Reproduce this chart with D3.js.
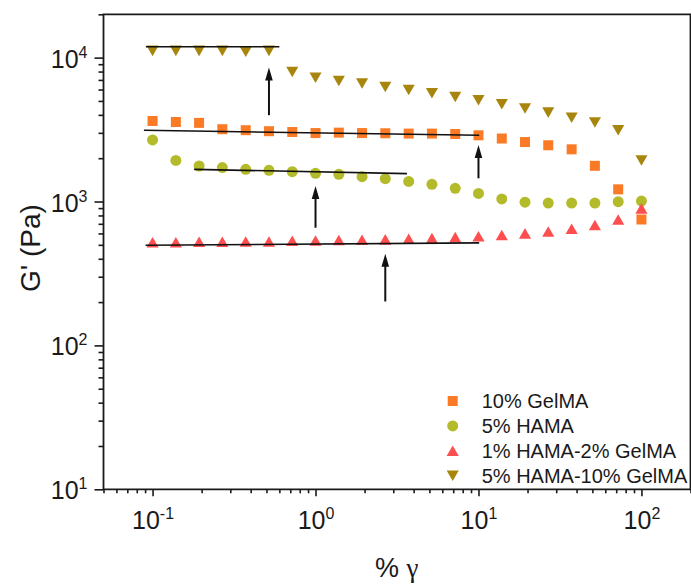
<!DOCTYPE html>
<html>
<head>
<meta charset="utf-8">
<script src="https://cdn.jsdelivr.net/npm/d3@7"></script>
<style>
  body { margin: 0; background: #fff; }
  svg text { font-family: "Liberation Sans", Arial, sans-serif; fill: #1a1a1a; }
</style>
</head>
<body>
<div id="chart-container"></div>
<script>
// strain sweep, % strain on x, storage modulus on y (both log)
const strain = [0.1, 0.139, 0.193, 0.268, 0.373, 0.518, 0.72, 1, 1.39, 1.93, 2.68,
  3.73, 5.18, 7.2, 10, 13.9, 19.3, 26.8, 37.3, 51.8, 72, 100];

const seriesNames = ["10% GelMA", "5% HAMA", "1% HAMA-2% GelMA", "5% HAMA-10% GelMA"];
const seriesColors = ["#fb7a26", "#b3bb2a", "#fd4f50", "#a8860e"];
const seriesSymbols = ["square", "circle", "triangleUp", "triangleDown"];

const gelma10 = [3630, 3570, 3520, 3180, 3130, 3080, 3040, 2990, 3010, 2990, 2980,
  2965, 2965, 2945, 2885, 2740, 2590, 2460, 2305, 1770, 1215, 750];
const hama5 = [2680, 1930, 1765, 1720, 1673, 1647, 1613, 1570, 1545, 1489, 1442,
  1380, 1316, 1234, 1138, 1042, 990, 975, 975, 975, 997, 1007];
const hama1gel2 = [521, 521, 525, 525, 527, 527, 533, 536, 539, 542, 545,
  551, 556, 565, 574, 584, 600, 619, 647, 685, 750, 895];
const hama5gel10 = [11150, 11150, 11150, 11150, 11010, 11150, 7960, 7260, 6890, 6610, 6260,
  5970, 5660, 5330, 5060, 4750, 4430, 4150, 3830, 3540, 3130, 1930];

// linear-region guide lines: [x0, y0, x1, y1]
const fitLines = [
  [0.0885, 3125, 10.1, 2885],
  [0.18, 1673, 3.64, 1562],
  [0.0906, 497, 10.1, 516],
  [0.091, 11900, 0.60, 11900]
];
// arrows: [x, yTail, yTip]
const arrows = [
  [10, 1450, 2470],
  [1, 657, 1280],
  [2.68, 202, 433],
  [0.518, 3980, 8550]
];

const xTickValues = [0.1, 1, 10, 100];
const xTickExps = ["-1", "0", "1", "2"];
const yTickValues = [10, 100, 1000, 10000];
const yTickExps = ["1", "2", "3", "4"];

((() => {
  const width = 691;
  const height = 584;
  const left = 103.5, right = 690.5, top = 14.3, bottom = 489.3;

  const x = d3.scaleLog().domain([0.05, 200]).range([left, right]);
  const y = d3.scaleLog().domain([10, 20000]).range([bottom, top]);

  const svg = d3.create("svg")
    .attr("width", width)
    .attr("height", height)
    .attr("viewBox", [0, 0, width, height]);

  svg.append("rect").attr("width", width).attr("height", height).attr("fill", "#fff");

  // minor ticks
  const xMinor = x.ticks().filter(v => !xTickValues.includes(v));
  const yMinor = y.ticks().filter(v => !yTickValues.includes(v));

  svg.append("g")
    .attr("transform", `translate(0,${bottom})`)
    .call(d3.axisBottom(x).tickValues(xMinor).tickSize(4).tickFormat("").tickSizeOuter(0))
    .call(g => g.select(".domain").remove());
  svg.append("g")
    .attr("transform", `translate(${left},0)`)
    .call(d3.axisLeft(y).tickValues(yMinor).tickSize(5).tickFormat("").tickSizeOuter(0))
    .call(g => g.select(".domain").remove());

  // major ticks
  const gx = svg.append("g")
    .attr("transform", `translate(0,${bottom})`)
    .call(d3.axisBottom(x).tickValues(xTickValues).tickSize(7).tickSizeOuter(0));
  gx.select(".domain").remove();
  gx.selectAll(".tick text").each(function(d, i) {
    const t = d3.select(this).text(null)
      .attr("y", 0).attr("dy", null)
      .attr("transform", "translate(0,40)")
      .attr("font-size", 25);
    t.append("tspan").text("10");
    t.append("tspan").attr("dy", -10).attr("font-size", 16).text(xTickExps[i]);
  });

  const gy = svg.append("g")
    .attr("transform", `translate(${left},0)`)
    .call(d3.axisLeft(y).tickValues(yTickValues).tickSize(9).tickSizeOuter(0));
  gy.select(".domain").remove();
  gy.selectAll(".tick text").each(function(d, i) {
    const t = d3.select(this).text(null)
      .attr("x", -16).attr("dy", null)
      .attr("transform", "translate(0,9.5)")
      .attr("font-size", 25);
    t.append("tspan").text("10");
    t.append("tspan").attr("dy", -10).attr("font-size", 16).text(yTickExps[i]);
  });
  svg.selectAll(".tick line").attr("stroke", "#1a1a1a").attr("stroke-width", 1.6);

  // frame
  svg.append("path")
    .attr("d", `M${left},${top}H${right}V${bottom}H${left}Z`)
    .attr("fill", "none").attr("stroke", "#1a1a1a").attr("stroke-width", 1.8);

  const symbolPath = (name) => {
    if (name === "square") return d3.symbol(d3.symbolSquare, 100)();
    if (name === "circle") return d3.symbol(d3.symbolCircle, 95)();
    return d3.symbol(d3.symbolTriangle, 64)();
  };
  const symbolTransform = (name, px, py) => {
    if (name === "triangleUp") return `translate(${px},${py + 1.7})`;
    if (name === "triangleDown") return `translate(${px},${py - 1.7}) rotate(180)`;
    return `translate(${px},${py})`;
  };

  const allSeries = [gelma10, hama5, hama1gel2, hama5gel10];
  allSeries.forEach((vals, si) => {
    svg.append("g")
      .attr("fill", seriesColors[si])
      .selectAll("path")
      .data(vals)
      .join("path")
      .attr("d", symbolPath(seriesSymbols[si]))
      .attr("transform", (d, i) => symbolTransform(seriesSymbols[si], x(strain[i]), y(d)));
  });

  // guide lines
  svg.append("g")
    .attr("stroke", "#111").attr("stroke-width", 1.6)
    .selectAll("line")
    .data(fitLines)
    .join("line")
    .attr("x1", d => x(d[0])).attr("y1", d => y(d[1]))
    .attr("x2", d => x(d[2])).attr("y2", d => y(d[3]));

  // arrows
  const ga = svg.append("g");
  arrows.forEach(a => {
    const ax = x(a[0]), y0 = y(a[1]), y1 = y(a[2]);
    ga.append("line")
      .attr("x1", ax).attr("x2", ax)
      .attr("y1", y0).attr("y2", y1 + 10)
      .attr("stroke", "#111").attr("stroke-width", 2);
    ga.append("path")
      .attr("d", `M${ax},${y1}L${ax - 3.8},${y1 + 13}L${ax + 3.8},${y1 + 13}Z`)
      .attr("fill", "#111");
  });

  // legend
  const legend = svg.append("g");
  seriesNames.forEach((name, i) => {
    const ly = 401 + i * 24.9;
    legend.append("path")
      .attr("d", symbolPath(seriesSymbols[i]))
      .attr("fill", seriesColors[i])
      .attr("transform", symbolTransform(seriesSymbols[i], 452.7, ly));
    legend.append("text")
      .attr("x", 481.7).attr("y", ly + 7)
      .attr("font-size", 20)
      .text(name);
  });

  // axis titles
  const xt = svg.append("text")
    .attr("x", 375).attr("y", 576.5)
    .attr("font-size", 27);
  xt.append("tspan").text("% ");
  xt.append("tspan").attr("font-family", "'Liberation Serif', 'DejaVu Serif', serif").text("\u03b3");

  svg.append("text")
    .attr("transform", "translate(40,248) rotate(-90)")
    .attr("text-anchor", "middle")
    .attr("font-size", 28)
    .text("G' (Pa)");

  d3.select("#chart-container").append(() => svg.node());
})());
</script>
</body>
</html>
